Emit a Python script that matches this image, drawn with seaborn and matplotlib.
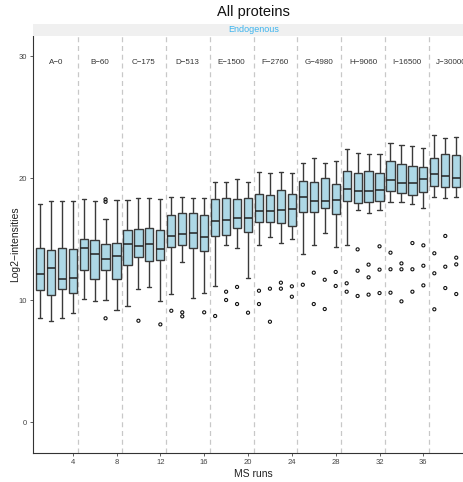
import numpy as np
import pandas as pd
import matplotlib
matplotlib.use("Agg")
import matplotlib.pyplot as plt
import seaborn as sns

# Five-number summaries of log2 intensities per MS run (runs 1..40)
runs = list(range(1, 41))
whisker_low = [8.5, 8.25, 8.5, 8.96, 10.1, 9.9, 10.0, 9.2, 9.5, 10.9,
               11.1, 9.9, 10.5, 13.14, 10.14, 10.6, 11.15, 14.5, 14.29, 11.78,
               14.5, 15.19, 14.7, 15.03, 13.77, 14.5, 15.52, 14.37, 14.5, 17.38,
               17.1, 17.36, 18.06, 18.03, 17.87, 17.51, 18.47, 18.39, 18.47, 18.4]
lower_q = [10.8, 10.4, 10.9, 10.55, 12.5, 11.7, 12.5, 11.7, 12.9, 13.5,
           13.2, 13.25, 14.37, 14.48, 14.29, 14.02, 15.25, 15.33, 15.87, 15.6,
           16.39, 16.37, 16.28, 16.04, 17.19, 17.19, 17.51, 17.05, 18.11, 17.95,
           18.0, 18.09, 18.91, 18.74, 18.6, 18.85, 19.37, 19.29, 19.24, 19.3]
medians = [12.1, 12.6, 11.75, 11.8, 14.3, 13.8, 13.4, 13.6, 14.6, 14.4,
           14.6, 14.15, 15.25, 15.38, 15.46, 15.14, 16.5, 16.56, 16.7, 16.7,
           17.32, 17.32, 17.38, 17.5, 18.47, 18.14, 18.11, 18.2, 19.07, 18.93,
           18.96, 18.99, 19.84, 19.62, 19.56, 19.89, 20.3, 20.19, 20.0, 20.1]
upper_q = [14.3, 14.1, 14.3, 14.15, 15.0, 14.9, 14.6, 14.65, 15.7, 15.85,
           15.9, 15.7, 17.0, 17.16, 17.1, 17.0, 18.28, 18.33, 18.3, 18.39,
           18.66, 18.58, 18.99, 18.69, 19.78, 19.7, 19.97, 19.5, 20.57, 20.38,
           20.6, 20.44, 21.42, 21.15, 21.0, 20.93, 21.67, 21.94, 21.89, 21.8]
whisker_high = [17.9, 18.1, 18.1, 18.1, 18.3, 18.1, 16.6, 18.2, 18.2, 18.4,
                18.4, 18.3, 18.47, 18.47, 18.33, 18.33, 19.7, 19.7, 19.9, 19.7,
                20.5, 20.4, 20.5, 20.4, 21.26, 21.6, 21.26, 21.4, 22.35, 22.08,
                22.0, 22.0, 22.84, 22.7, 22.62, 22.5, 23.52, 23.25, 23.39, 23.4]

# Outlying proteins (run, value)
outlier_runs = [7, 7, 7, 10, 12, 13, 14, 14, 16, 17,
                18, 18, 19, 19, 20, 21, 21, 22, 22, 23,
                23, 24, 24, 25, 26, 26, 27, 27, 28, 28,
                29, 29, 30, 30, 30, 31, 31, 31, 32, 32,
                32, 33, 33, 33, 34, 34, 34, 35, 35, 35,
                36, 36, 36, 37, 37, 37, 38, 38, 38, 39,
                39, 39, 40, 40]
outlier_vals = [18.25, 18.05, 8.5, 8.3, 8.0, 9.12, 8.99, 8.66, 8.99, 8.69,
                10.68, 10.0, 11.07, 9.67, 8.96, 10.76, 9.67, 10.93, 8.22, 11.42,
                10.93, 11.12, 10.27, 11.25, 12.24, 9.67, 11.66, 9.26, 12.3, 11.15,
                11.37, 10.68, 14.15, 12.4, 10.33, 12.9, 11.86, 10.44, 14.4, 12.49,
                10.57, 13.88, 12.52, 10.6, 13.0, 12.52, 9.89, 14.67, 12.52, 10.68,
                14.48, 12.81, 11.2, 13.83, 12.19, 9.24, 15.25, 12.73, 10.98, 13.47,
                12.92, 10.49, 14.0, 11.5]

group_labels = ["A−0", "B−60", "C−175", "D−513", "E−1500",
                "F−2760", "G−4980", "H−9060", "I−16500", "J−30000"]
x_ticks = [4, 8, 12, 16, 20, 24, 28, 32, 36]
y_ticks = [0, 10, 20, 30]

# Long table: each run's five summary values give exactly these quartiles
rows = []
for i, r in enumerate(runs):
    for v in (whisker_low[i], lower_q[i], medians[i], upper_q[i], whisker_high[i]):
        rows.append({"run": r, "value": v})
df = pd.DataFrame(rows)
out_df = pd.DataFrame({"run": outlier_runs, "value": outlier_vals})

sns.set_style("white")
plt.rcParams["font.family"] = ["Liberation Sans", "DejaVu Sans"]

W, H = 463, 482
fig = plt.figure(figsize=(W / 100, H / 100), dpi=100)
left, right, top, bottom = 33, 474, 36, 453
ax = fig.add_axes([left / W, 1 - bottom / H, (right - left) / W, (bottom - top) / H])

# group separators
for k in range(1, 10):
    ax.axvline(4 * k + 0.5, color="#c8c8c8", lw=0.9, ls=(0, (4, 3)), zorder=0)

edge = "#3a3a3a"
sns.boxplot(data=df, x="run", y="value", native_scale=True, whis=np.inf,
            width=0.75, color="#add8e6", linecolor=edge, linewidth=1.0,
            fliersize=0, saturation=1, ax=ax,
            boxprops=dict(zorder=2), medianprops=dict(color="#222222", lw=1.1))
sns.scatterplot(data=out_df, x="run", y="value", ax=ax, marker="o", s=5,
                facecolor="none", edgecolor="#111111", linewidth=0.8, zorder=3)

for k, lab in enumerate(group_labels):
    ax.text(4 * k + 2.5, 29.5, lab, ha="center", va="center", fontsize=5.8,
            color="#333333")

ax.set_xlim(0.38, 40.62)
ax.set_ylim(-2.54, 31.64)
ax.set_xticks(x_ticks)
ax.set_yticks(y_ticks)
ax.tick_params(axis="both", labelsize=5.5, colors="#444444", length=2.5,
               width=0.6, pad=2, direction="out", left=True, bottom=True)
for s in ("top", "right"):
    ax.spines[s].set_visible(False)
for s in ("left", "bottom"):
    ax.spines[s].set_color("#333333")
    ax.spines[s].set_linewidth(0.8)
ax.set_xlabel("MS runs", fontsize=7.5, color="#222222", labelpad=2)
ax.set_ylabel("Log2−intensities", fontsize=7.5, color="#222222", labelpad=-1)

# facet strip
strip = fig.add_axes([left / W, 1 - 35.5 / H, (right - left) / W, 11.5 / H])
strip.set_facecolor("#f0f0f0")
strip.set_xticks([]); strip.set_yticks([])
for s in strip.spines.values():
    s.set_visible(False)
strip.text(0.5, 0.5, "Endogenous", ha="center", va="center", fontsize=6.5,
           color="#3cb4ee", transform=strip.transAxes)

fig.text((left + right) / 2 / W, 1 - 12 / H, "All proteins", ha="center",
         va="center", fontsize=10.5, color="#111111")

fig.savefig("out.png", dpi=100)
